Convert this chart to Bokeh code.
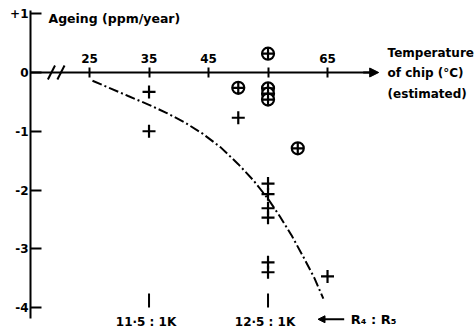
from bokeh.plotting import figure
from bokeh.models import Range1d, LinearAxis, FixedTicker, Arrow, NormalHead
from bokeh.embed import file_html
from bokeh.resources import INLINE
from bokeh.core.properties import value

# ---- data ----
plus_temp = [35, 35, 50, 55, 55, 55, 55, 55, 55, 65]
plus_ageing = [-0.33, -1.0, -0.77, -1.89, -2.07, -2.31, -2.47, -3.23, -3.40, -3.47]
circ_temp = [55, 50, 55, 55, 55, 60]
circ_ageing = [0.32, -0.26, -0.27, -0.36, -0.46, -1.29]
curve_temp = [25.5, 28.5, 31.5, 35.0, 38.0, 41.0, 44.0, 47.0, 50.0, 52.5, 55.0, 57.0, 59.0, 61.0, 62.8, 64.3]
curve_ageing = [-0.14, -0.27, -0.40, -0.55, -0.69, -0.85, -1.04, -1.27, -1.56, -1.83, -2.15, -2.45, -2.78, -3.15, -3.50, -3.85]
x_ticks = [25, 35, 45, 55, 65]
x_tick_labels = ["25", "35", "45", "", "65"]
y_ticks = [-4, -3, -2, -1, 0, 1]
y_tick_labels = ["-4", "-3", "-2", "-1", "0", "+1"]
ratio_temp = [35, 55]
ratio_labels = ["11·5 : 1K", "12·5 : 1K"]
x_title = ["Temperature", "of chip (°C)", "(estimated)"]
y_title = "Ageing (ppm/year)"
ratio_title = "R₄ : R₅"

FONT = "DejaVu Sans"
X0, X1 = 15.08, 89.87
Y0, Y1 = -4.391, 1.2255

p = figure(width=475, height=330, x_range=Range1d(X0, X1), y_range=Range1d(Y0, Y1),
           output_backend="svg", toolbar_location=None,
           x_axis_location=None, y_axis_location=None,
           min_border_left=30, min_border_right=0, min_border_top=0, min_border_bottom=0,
           outline_line_color=None)
p.xgrid.visible = False
p.ygrid.visible = False

yax = LinearAxis(ticker=FixedTicker(ticks=y_ticks),
                 major_label_overrides=dict(zip(y_ticks, y_tick_labels)),
                 bounds=(-4.19, 1.05), major_tick_in=11, major_tick_out=0,
                 minor_tick_line_color=None, axis_line_width=2, major_tick_line_width=2,
                 major_label_text_font=FONT, major_label_text_font_style="bold",
                 major_label_text_color="black",
                 major_label_text_font_size="12px", major_label_standoff=2)
p.add_layout(yax, "left")

xax = LinearAxis(fixed_location=0, ticker=FixedTicker(ticks=x_ticks),
                 major_label_overrides=dict(zip(x_ticks, x_tick_labels)),
                 bounds=(X0, 73.0), major_tick_in=5, major_tick_out=5,
                 minor_tick_line_color=None, axis_line_width=2, major_tick_line_width=2,
                 major_label_text_font=FONT, major_label_text_font_style="bold",
                 major_label_text_color="black",
                 major_label_text_font_size="12px", major_label_standoff=5)
p.add_layout(xax, "above")

p.add_layout(Arrow(end=NormalHead(size=9, fill_color="black", line_color="black"),
                   x_start=71.0, y_start=0, x_end=73.6, y_end=0, line_width=2))

# axis break
p.segment(x0=[18.6], y0=[0], x1=[19.8], y1=[0], line_color="white", line_width=5)
p.segment(x0=[18.0, 19.6], y0=[-0.12, -0.12], x1=[19.2, 20.8], y1=[0.12, 0.12],
          line_color="black", line_width=2)

p.line(curve_temp, curve_ageing, line_dash="10 3 2 3", line_width=2, color="black")
p.scatter(plus_temp, plus_ageing, marker="cross", size=13, line_width=2.2, color="black")
p.scatter(circ_temp, circ_ageing, marker="circle_cross", size=12, line_width=2.2,
          line_color="black", fill_color="white")

p.text(x=[18.1], y=[0.92], text=[y_title], text_font=value(FONT), text_font_style="bold",
       text_font_size="12.5px", text_baseline="middle", text_align="left")
p.text(x=[75.1] * 3, y=[0.34, -0.01, -0.36], text=x_title, text_font=value(FONT),
       text_font_style="bold", text_font_size="12px", text_baseline="middle", text_align="left")

p.segment(x0=ratio_temp, y0=[-3.76] * 2, x1=ratio_temp, y1=[-4.0] * 2,
          line_color="black", line_width=2)
p.text(x=ratio_temp, y=[-4.24] * 2, text=ratio_labels, text_font=value(FONT),
       text_font_style="bold", text_font_size="12px", text_baseline="middle",
       text_align="center", x_offset=-3)
p.add_layout(Arrow(end=NormalHead(size=7, fill_color="black", line_color="black"),
                   x_start=67.8, y_start=-4.2, x_end=63.4, y_end=-4.2, line_width=2))
p.text(x=[68.9], y=[-4.2], text=[ratio_title], text_font=value(FONT), text_font_style="bold",
       text_font_size="13px", text_baseline="middle", text_align="left")

open("out.html", "w").write(file_html(p, INLINE))
